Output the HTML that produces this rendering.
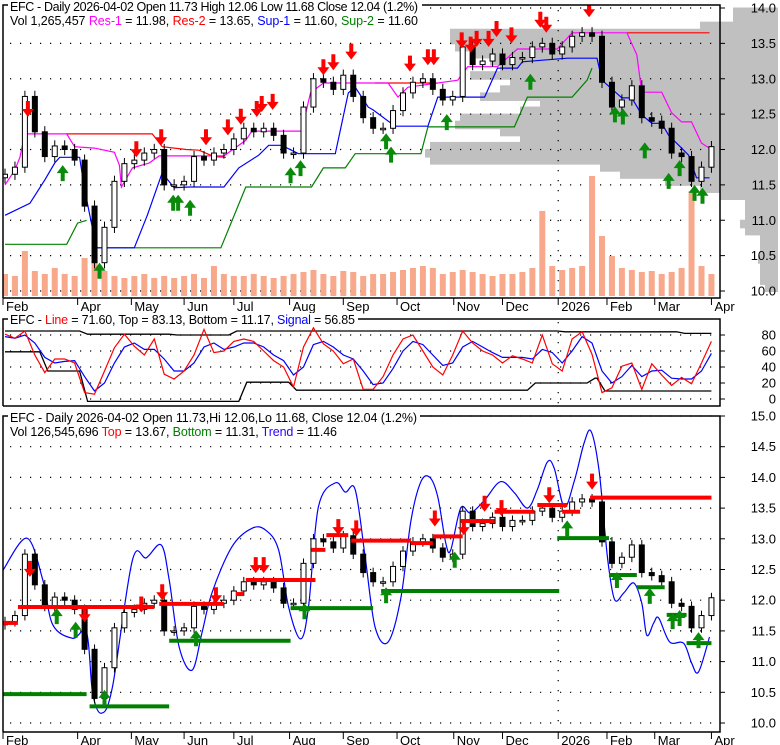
<!DOCTYPE html>
<html><head><meta charset="utf-8"><style>
html,body{margin:0;padding:0;background:#fff;}
svg{display:block;font-family:"Liberation Sans",Arial,sans-serif;}
</style></head><body>
<svg id="chart" width="780" height="745" viewBox="0 0 780 745" xmlns="http://www.w3.org/2000/svg">
<defs>
<clipPath id="c1"><rect x="3" y="5" width="717" height="293"/></clipPath>
<clipPath id="c2"><rect x="3" y="319" width="717" height="87"/></clipPath>
<clipPath id="c3"><rect x="3" y="416" width="717" height="316"/></clipPath>
</defs>
<g id="profile"></g>
<g id="grid"></g>
<g id="p1" clip-path="url(#c1)"></g>
<g id="p2" clip-path="url(#c2)"></g>
<g id="p3" clip-path="url(#c3)"></g>
<g id="frames"></g>
<g id="axes"></g>
<g id="headers">
<rect x="8" y="0" width="414" height="13" fill="#fff"/>
<text x="10" y="11" font-size="12.5" textLength="408">EFC - Daily 2026-04-02 Open 11.73  High 12.06  Low 11.68  Close 12.04 (1.2%)</text>
<text x="10" y="25" font-size="12.5" textLength="408">Vol 1,265,457 <tspan fill="#ff00ff">Res-1</tspan> = 11.98, <tspan fill="#ff0000">Res-2</tspan> = 13.65, <tspan fill="#0000ff">Sup-1</tspan> = 11.60, <tspan fill="#008000">Sup-2</tspan> = 11.60</text>
<rect x="8" y="313" width="350" height="13" fill="#fff"/>
<text x="10" y="324" font-size="12.5" textLength="345">EFC - <tspan fill="#ff0000">Line</tspan> = 71.60, Top = 83.13, Bottom = 11.17, <tspan fill="#0000ff">Signal</tspan> = 56.85</text>
<rect x="8" y="410" width="412" height="13" fill="#fff"/>
<text x="10" y="422" font-size="12.5" textLength="407">EFC - Daily 2026-04-02 Open 11.73,Hi 12.06,Lo 11.68, Close 12.04 (1.2%)</text>
<text x="10" y="436" font-size="12.5" textLength="327">Vol 126,545,696 <tspan fill="#ff0000">Top</tspan> = 13.67, <tspan fill="#008000">Bottom</tspan> = 11.31, <tspan fill="#3300ff">Trend</tspan> = 11.46</text>
</g>
</svg>
<script>
const closes=[11.65,11.75,12.75,12.25,11.9,12.05,12.0,11.85,11.2,10.4,10.9,11.55,11.8,11.85,11.95,12.0,11.5,11.5,11.55,11.9,11.85,11.95,12.0,12.15,12.3,12.25,12.3,12.2,11.95,11.95,12.6,13.0,12.95,12.85,13.05,12.75,12.45,12.3,12.3,12.55,12.8,12.95,13.0,12.85,12.7,12.75,13.45,13.2,13.25,13.35,13.2,13.3,13.3,13.45,13.5,13.35,13.45,13.6,13.65,13.6,12.95,12.6,12.7,12.9,12.45,12.4,12.3,11.95,11.9,11.55,11.75,12.04];
const volumes=[22,20,45,25,22,28,22,20,38,35,25,20,18,20,22,18,20,18,20,22,18,30,22,20,20,22,20,18,20,22,24,26,22,20,25,24,20,22,22,24,26,28,30,28,22,24,26,24,22,20,22,22,24,28,85,30,26,28,30,120,60,40,28,26,24,25,22,24,28,105,30,22];
const oscLine=[81,76,85,55,33,50,50,45,8,6,35,64,81,66,55,75,31,25,35,55,87,58,60,72,75,72,60,48,40,15,65,89,69,60,44,50,12,12,28,55,75,80,60,40,30,55,85,70,60,55,45,54,50,45,80,44,35,75,84,56,8,14,41,45,12,44,30,17,27,19,45,72];
const oscSignal=[78,76,80,70,52,45,47,48,28,10,20,45,65,70,62,62,50,35,35,45,65,70,62,65,70,70,65,55,48,30,40,68,72,65,55,50,35,18,20,38,60,72,68,55,42,45,65,72,65,58,52,52,52,50,62,58,45,60,78,70,35,20,28,42,28,35,36,26,25,25,35,57];
const oscTop=[85,85,85,85,85,85,85,85,81,81,81,81,81,81,81,81,81,80,80,80,80,80,80,85,85,85,85,85,85,85,85,85,85,85,85,85,85,85,85,85,85,85,85,85,85,85,85,85,85,85,85,85,85,85,85,85,84,84,84,84,84,84,84,84,84,84,84,84,82,82,82,82];
const oscBottom=[59,59,59,59,35,35,35,35,-3,-3,-3,-3,-3,-3,-3,-3,-3,-3,-3,-3,-3,-3,-3,-3,21,21,21,21,21,11,11,11,11,11,11,11,11,11,11,11,11,11,11,11,11,11,11,11,11,11,11,11,11,20,20,20,20,20,20,26,10,10,10,10,10,10,10,10,10,10,10,10];
const res1=[[0,11.5],[1,11.71],[1.5,11.89],[2,12.22],[6.2,12.22],[7,12.04],[9,12.02],[11,11.96],[11.5,11.78],[11.7,11.47],[12.8,11.74],[14.5,11.81],[15.5,11.91],[22,11.91],[24.2,12.13],[24.8,12.26],[29.8,12.26],[30.7,12.8],[32,12.94],[38.5,12.94],[39.5,12.74],[40.5,12.88],[45.5,12.98],[46.5,13.17],[49.5,13.17],[51.5,13.42],[55.5,13.42],[57,13.65],[62.5,13.65],[63.5,13.34],[64,12.81],[66,12.81],[67,12.52],[68,12.39],[69,12.39],[70,12.09],[70.8,12.02]];
const res2=[[6.2,12.22],[14.8,12.22],[15.8,12.04],[18.2,12.0],[19.5,11.99],[21,11.9],[22.2,11.89],null,[37.2,12.94],[43.5,12.94],null,[62.5,13.65],[70.8,13.65]];
const sup1=[[0,11.07],[2.5,11.24],[4,11.57],[5,11.81],[5.5,11.89],[7.5,11.89],[8,11.43],[9.2,10.61],[13,10.61],[14.3,11.07],[15.8,11.67],[17,11.46],[18.5,11.47],[22,11.47],[23.5,11.74],[25.5,11.92],[26.5,12.06],[27.8,12.06],[29.5,11.94],[33.2,11.94],[34.5,12.8],[35.2,12.88],[36.5,12.6],[37,12.56],[39.2,12.33],[42.5,12.33],[43.5,12.74],[48.2,12.74],[49.5,13.15],[51.5,13.15],[52,13.24],[56.5,13.29],[59.5,13.29],[60,12.98],[62,12.73],[63,12.73],[64,12.49],[65,12.37],[66,12.37],[66.7,12.2],[68,12.02],[68.7,11.92],[69.5,11.6],[70.8,11.6]];
const sup2=[[0,10.66],[6.2,10.66],[7.3,10.96],[8.2,11.0],null,[9.2,10.61],[21.7,10.61],[24.2,11.47],[30.8,11.47],[32,11.74],[34.2,11.74],[35.2,11.94],[41.8,11.94],[42.5,12.32],[51.2,12.32],[52.5,12.74],[57,12.74],[58.5,12.98],[59,13.15]];
const p1Down=[[2.3,12.46],[13.2,11.89],[15.7,12.06],[20.2,12.06],[22.4,12.2],[23.7,12.35],[25.3,12.46],[25.8,12.53],[26.9,12.56],[32,13.05],[33,13.12],[34.8,13.27],[40.7,13.1],[42.5,13.19],[43.1,13.19],[45.9,13.43],[46.8,13.37],[47.4,13.45],[48.6,13.45],[49.4,13.59],[50.9,13.5],[53.8,13.72],[54.4,13.65],[58.7,13.87]];
const p1Up=[[5.8,11.78],[9.5,10.4],[16.9,11.36],[17.4,11.36],[18.6,11.29],[28.7,11.75],[29.7,11.85],[38.3,12.23],[38.8,12.04],[44.4,12.5],[52.8,13.07],[61.3,12.61],[62.1,12.58],[64.3,12.1],[66.7,11.67],[67.8,11.85],[69.3,11.5],[70.1,11.46]];
const profileLevels=[10.0,10.1,10.2,10.3,10.4,10.5,10.6,10.7,10.8,10.9,11.0,11.1,11.2,11.3,11.4,11.5,11.6,11.7,11.8,11.9,12.0,12.1,12.2,12.3,12.4,12.5,12.6,12.7,12.8,12.9,13.0,13.1,13.2,13.3,13.4,13.5,13.6,13.7,13.8,13.9];
const profileVols=[13,18,18,18,20,18,18,18,33,38,33,33,33,58,78,113,158,178,348,353,348,258,278,323,318,258,238,298,278,268,308,278,288,308,323,328,328,78,45,45];
const trendBand=[[-0.2,12.49],[2.2,13.01],[3.8,12.33],[4.8,11.6],[6.8,11.38],[8.2,11.47],[8.8,10.49],[9.7,10.16],[10.8,10.59],[12.8,12.65],[14.2,12.69],[15.7,12.9],[16.5,12.33],[17.5,11.24],[18.8,10.86],[19.8,11.47],[20.8,12.12],[22.8,12.87],[24.8,13.17],[26.2,13.14],[27.5,12.82],[28.5,11.89],[29.7,11.37],[30.5,11.89],[31.5,13.52],[33.2,13.91],[34.2,13.76],[35.2,13.8],[36.2,12.7],[37.2,11.56],[38.5,11.32],[39.8,12.05],[40.8,13.3],[41.8,13.93],[42.7,14.0],[43.5,13.68],[44.3,12.93],[44.8,12.82],[45.8,13.5],[46.8,13.42],[48.2,13.63],[49.8,13.93],[51.2,13.75],[52.5,13.5],[53.5,13.8],[54.5,14.25],[55.2,14.15],[56.2,13.52],[57.2,13.93],[58.2,14.56],[58.9,14.75],[59.7,14.12],[60.3,13.1],[60.7,12.5],[61.3,12.0],[62.2,12.12],[63.2,12.28],[64,11.95],[64.5,11.43],[65.2,11.63],[65.7,11.71],[66.8,11.32],[68.2,11.3],[69,10.98],[69.7,10.83],[70.8,11.4]];
const topSegs=[[-0.2,1.3,11.63],[1.3,15,11.89],[15.5,22,11.94],[23.2,24,12.1],[24.2,31.2,12.33],[30.8,32.2,12.82],[32.3,34.5,13.06],[34.8,40.8,12.97],[40.8,43,12.93],[43,46,13.04],[45.8,49.2,13.29],[49.2,53.2,13.44],[53.5,56.5,13.55],[56,57.8,13.44],[58.8,71,13.67]];
const bottomSegs=[[-0.2,8.2,10.47],[8.5,16.5,10.27],[16.5,28.7,11.34],[28.7,37,11.87],[37.8,55.7,12.15],[55.5,60.7,13.01],[60.7,63.5,12.41],[63.5,66.3,12.21],[66.5,68.5,11.76],[68.5,71,11.3]];
const p3Down=[[2.5,12.38],[8,11.64],[13.7,11.8],[15.8,12.0],[21.2,11.95],[25.2,12.44],[26,12.44],[33.5,13.06],[35.3,13.04],[43.2,13.2],[46.1,13.06],[48.2,13.44],[49.9,13.37],[54.7,13.58],[59,13.8]];
const p3Up=[[5.2,11.87],[7.1,11.65],[10,10.54],[19.2,11.51],[30.1,11.95],[38.3,12.21],[45.2,12.79],[56.5,13.3],[61.5,12.46],[64.8,12.2],[67.1,11.79],[67.8,11.84],[69.7,11.48]];
const monthLabels=["Feb","Apr","May","Jun","Jul","Aug","Sep","Oct","Nov","Dec","2026","Feb","Mar","Apr"];
const monthTicks=[-0.2,7.3,12.7,18,23,28.6,34,39.4,45.1,50,55.6,60.5,65.3,71];
const p1Ticks=["14.0","13.5","13.0","12.5","12.0","11.5","11.0","10.5","10.0"];
const p2Ticks=["80","60","40","20","0"];
const p3Ticks=["15.0","14.5","14.0","13.5","13.0","12.5","12.0","11.5","11.0","10.5","10.0"];

const NS="http://www.w3.org/2000/svg";
const X=t=>5+t*9.95;
const Y1=p=>8+(14-p)*70.75;
const Y2=v=>399-v*0.8;
const Y3=p=>416+(15-p)*61.4;
const VB=296;
function mk(tag,attrs,parent){const e=document.createElementNS(NS,tag);for(const k in attrs)e.setAttribute(k,attrs[k]);parent.appendChild(e);return e;}
const $=id=>document.getElementById(id);

const gp=$('profile');
profileLevels.forEach((p,i)=>{
  const r=mk('rect',{x:778-profileVols[i],y:Y1(p+0.1)-0.5,width:profileVols[i],height:Y1(p)-Y1(p+0.1)+1.5,fill:'#c0c0c0'},gp);
  
  
});

const gg=$('grid');
function hdots(y,x0,x1){mk('line',{x1:x0,y1:y,x2:x1,y2:y,stroke:'#000','stroke-width':1.2,'stroke-dasharray':'1.2 8.8'},gg);}
function vdots(x,y0,y1){mk('line',{x1:x,y1:y0,x2:x,y2:y1,stroke:'#000','stroke-width':1.2,'stroke-dasharray':'1.2 8.8'},gg);}
p1Ticks.forEach(t=>hdots(Y1(+t),10,716));
p2Ticks.forEach(t=>hdots(Y2(+t),10,716));
p3Ticks.forEach(t=>hdots(Y3(+t),10,716));
const yr=X(monthTicks[10]);
vdots(yr,10,296);vdots(yr,322,404);vdots(yr,440,730);

function poly(parent,pts,fx,fy,color,w,name){
  let segs=[[]];
  pts.forEach(p=>{if(p===null){segs.push([]);}else segs[segs.length-1].push(fx(p[0]).toFixed(1)+','+fy(p[1]).toFixed(1));});
  segs.forEach(s=>{if(s.length<2)return;
    const e=mk('polyline',{points:s.join(' '),fill:'none',stroke:color,'stroke-width':w},parent);
    
    
  });
}
function candles(parent,fy,name){
  closes.forEach((c,i)=>{
    const o=i>0?closes[i-1]:c-0.05;
    const hi=Math.max(o,c)+0.08, lo=Math.min(o,c)-0.08;
    const x=X(i);
    const g=mk('g',{},parent);
    
    
    mk('line',{x1:x,y1:fy(hi),x2:x,y2:fy(lo),stroke:'#000','stroke-width':1},g);
    const top=fy(Math.max(o,c)),bot=fy(Math.min(o,c));
    mk('rect',{x:x-2.5,y:top,width:5,height:Math.max(1.5,bot-top),fill:c>=o?'#fff':'#000',stroke:'#000','stroke-width':1},g);
  });
}
function arrow(parent,t,p,fy,down,name){
  const x=X(t),y=fy(p);
  let d;
  if(down) d=`M${x} ${y} L${x-6} ${y-8} L${x-2} ${y-8} L${x-2} ${y-16} L${x+2} ${y-16} L${x+2} ${y-8} L${x+6} ${y-8} Z`;
  else d=`M${x} ${y} L${x-6} ${y+8} L${x-2} ${y+8} L${x-2} ${y+16} L${x+2} ${y+16} L${x+2} ${y+8} L${x+6} ${y+8} Z`;
  const e=mk('path',{d:d,fill:down?'#ff0000':'#0a8a0a'},parent);
  
  
}

const p1=$('p1');
volumes.forEach((v,i)=>{
  const r=mk('rect',{x:X(i)-3,y:VB-v,width:6,height:v,fill:'#f9a98b'},p1);
  
  
});
poly(p1,sup2,X,Y1,'#008000',1.2,'sup-2-line');
poly(p1,sup1,X,Y1,'#0000ff',1.2,'sup-1-line');
poly(p1,res2,X,Y1,'#ff0000',1.2,'res-2-line');
poly(p1,res1,X,Y1,'#ff00ff',1.2,'res-1-line');
candles(p1,Y1,'price-candle');
p1Down.forEach(a=>arrow(p1,a[0],a[1],Y1,true,'sell-arrow'));
p1Up.forEach(a=>arrow(p1,a[0],a[1],Y1,false,'buy-arrow'));

const p2=$('p2');
const idx=a=>a.map((v,i)=>[i,v]);
function stepPts(a){const r=[];a.forEach((v,i)=>{if(i>0&&a[i-1]!==v)r.push([i-0.5,a[i-1]],[i+0.3,v]);else r.push([i,v]);});return r;}
poly(p2,stepPts(oscTop),X,Y2,'#000',1.3,'osc-top-line');
poly(p2,stepPts(oscBottom),X,Y2,'#000',1.3,'osc-bottom-line');
poly(p2,idx(oscSignal),X,Y2,'#0000ff',1.2,'signal-line');
poly(p2,idx(oscLine),X,Y2,'#ff0000',1.2,'osc-line');

const p3=$('p3');
(function(){
  const pts=trendBand.map(p=>[X(p[0]),Y3(p[1])]);
  let d='M'+pts[0][0]+' '+pts[0][1];
  for(let i=0;i<pts.length-1;i++){
    const p0=pts[Math.max(0,i-1)],a=pts[i],b=pts[i+1],p3_=pts[Math.min(pts.length-1,i+2)];
    const c1=[a[0]+(b[0]-p0[0])/6,a[1]+(b[1]-p0[1])/6],c2=[b[0]-(p3_[0]-a[0])/6,b[1]-(p3_[1]-a[1])/6];
    d+=` C${c1[0].toFixed(1)} ${c1[1].toFixed(1)} ${c2[0].toFixed(1)} ${c2[1].toFixed(1)} ${b[0].toFixed(1)} ${b[1].toFixed(1)}`;
  }
  const e=mk('path',{d:d,fill:'none',stroke:'#0000ff','stroke-width':1.2},p3);
  
  
})();
candles(p3,Y3,'trend-candle');
topSegs.forEach(s=>{
  const e=mk('line',{x1:X(s[0]),y1:Y3(s[2]),x2:X(s[1]),y2:Y3(s[2]),stroke:'#ff0000','stroke-width':4},p3);
  
  
});
bottomSegs.forEach(s=>{
  const e=mk('line',{x1:X(s[0]),y1:Y3(s[2]),x2:X(s[1]),y2:Y3(s[2]),stroke:'#008000','stroke-width':4},p3);
  
  
});
p3Down.forEach(a=>arrow(p3,a[0],a[1],Y3,true,'sell-arrow'));
p3Up.forEach(a=>arrow(p3,a[0],a[1],Y3,false,'buy-arrow'));

const fr=$('frames');
[[5,298],[319,406],[416,732]].forEach(f=>{
  mk('path',{d:`M3 ${f[1]} L3 ${f[0]} L720 ${f[0]} L720 ${f[1]} L3 ${f[1]}`,fill:'none',stroke:'#000','stroke-width':1.5},fr);
});

const ax=$('axes');
function ylabels(ticks,fy,name){
  ticks.forEach(t=>{
    const y=fy(+t);
    mk('line',{x1:720,y1:y,x2:725,y2:y,stroke:'#000','stroke-width':1},ax);
    const e=mk('text',{x:776,y:y+4.5,'font-size':'13','text-anchor':'end'},ax);
    e.textContent=t;
    
    
  });
}
ylabels(p1Ticks,Y1,'price-axis-label');
ylabels(p2Ticks,Y2,'oscillator-axis-label');
ylabels(p3Ticks,Y3,'trend-axis-label');
function xlabels(yAxis,name){
  monthLabels.forEach((m,i)=>{
    const x=X(monthTicks[i]);
    mk('line',{x1:x,y1:yAxis,x2:x,y2:yAxis+7,stroke:'#000','stroke-width':1},ax);
    const e=mk('text',{x:x+3,y:yAxis+13,'font-size':'13'},ax);
    e.textContent=m;
    
    
  });
}
xlabels(298,'date-axis-label');
xlabels(732,'date-axis-label');
</script>
</body></html>
